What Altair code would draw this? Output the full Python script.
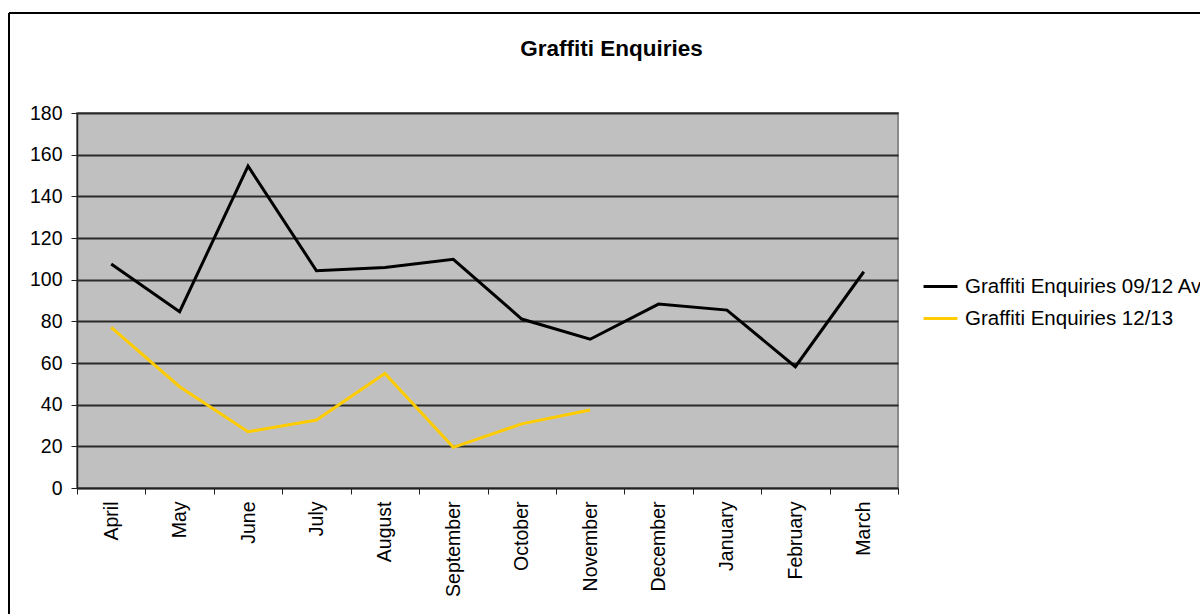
import altair as alt
import pandas as pd

# Financial-year months, April to March
months = ["April", "May", "June", "July", "August", "September",
          "October", "November", "December", "January", "February", "March"]

# Three-year average 09/12 (full year) and 12/13 to date (April-November)
avg_0912 = [107.5, 84.6, 154.5, 104.3, 105.8, 109.8, 81.1, 71.4, 88.3, 85.4, 58.2, 103.8]
enq_1213 = [77.1, 48.6, 27.0, 32.6, 55.0, 19.5, 30.8, 37.4]

series_names = ["Graffiti Enquiries 09/12 Average", "Graffiti Enquiries 12/13"]
series_colors = ["#000000", "#FFCC00"]
y_ticks = [0, 20, 40, 60, 80, 100, 120, 140, 160, 180]

rows = []
for name, values in zip(series_names, [avg_0912, enq_1213]):
    for month, value in zip(months, values):
        rows.append({"month": month, "series": name, "value": value})
df = pd.DataFrame(rows)

FONT = "Liberation Sans"
PLOT_W, PLOT_H = 821, 375
LEFT, TOP = 77, 113

x_enc = alt.X(
    "month:N",
    sort=months,
    bandPosition=0.5,
    scale=alt.Scale(type="band", paddingInner=0, paddingOuter=0),
    axis=alt.Axis(
        title=None,
        labelAngle=270,
        labelFontSize=19.5,
        labelFont=FONT,
        labelColor="#000000",
        labelPadding=7,
        tickBand="extent",
        tickSize=6,
        tickColor="#222222",
        domainColor="#222222",
        domainWidth=1.5,
        grid=False,
        labelOverlap=False,
    ),
)

y_enc = alt.Y(
    "value:Q",
    scale=alt.Scale(domain=[0, 180], nice=False, zero=True),
    axis=alt.Axis(
        title=None,
        values=y_ticks,
        labelFontSize=19.5,
        labelFont=FONT,
        labelColor="#000000",
        labelPadding=9,
        tickSize=6,
        tickColor="#222222",
        domainColor="#222222",
        domainWidth=1.5,
        grid=True,
        gridColor="#2a2a2a",
        gridWidth=1.8,
        gridOpacity=1,
    ),
)

lines = alt.Chart(df).mark_line(strokeWidth=3, strokeJoin="miter").encode(
    x=x_enc,
    y=y_enc,
    color=alt.Color(
        "series:N",
        scale=alt.Scale(domain=series_names, range=series_colors),
        legend=alt.Legend(
            title=None,
            orient="none",
            legendX=845,
            legendY=155,
            symbolType="stroke",
            symbolSize=1150,
            symbolStrokeWidth=3,
            labelFontSize=20.5,
            labelFont=FONT,
            labelColor="#000000",
            labelOffset=6,
            labelLimit=600,
            rowPadding=3,
        ),
    ),
    detail="series:N",
)

# Outer chart frame (top and left edges)
frame_data = alt.Data(values=[{"edge": "frame"}])
frame_top = alt.Chart(frame_data).mark_rule(color="#000000", strokeWidth=2).encode(
    x=alt.value(9 - LEFT), x2=alt.value(1300 - LEFT), y=alt.value(13 - TOP)
)
frame_left = alt.Chart(frame_data).mark_rule(color="#000000", strokeWidth=2).encode(
    x=alt.value(9 - LEFT), y=alt.value(13 - TOP), y2=alt.value(700 - TOP)
)

chart = alt.layer(lines, frame_top, frame_left).properties(
    width=PLOT_W,
    height=PLOT_H,
    title=alt.TitleParams(
        "Graffiti Enquiries",
        font=FONT,
        fontSize=22.5,
        fontWeight="bold",
        color="#000000",
        anchor="middle",
        dx=124,
        offset=-48,
    ),
    padding={"left": LEFT, "top": TOP, "right": 1200 - LEFT - PLOT_W, "bottom": 614 - TOP - PLOT_H},
    autosize=alt.AutoSizeParams(type="none"),
    background="#FFFFFF",
).configure_view(
    fill="#C0C0C0",
    stroke="#8a8a8a",
    strokeWidth=2,
)

chart.save("out.html", embed_options={"renderer": "svg", "actions": False})
